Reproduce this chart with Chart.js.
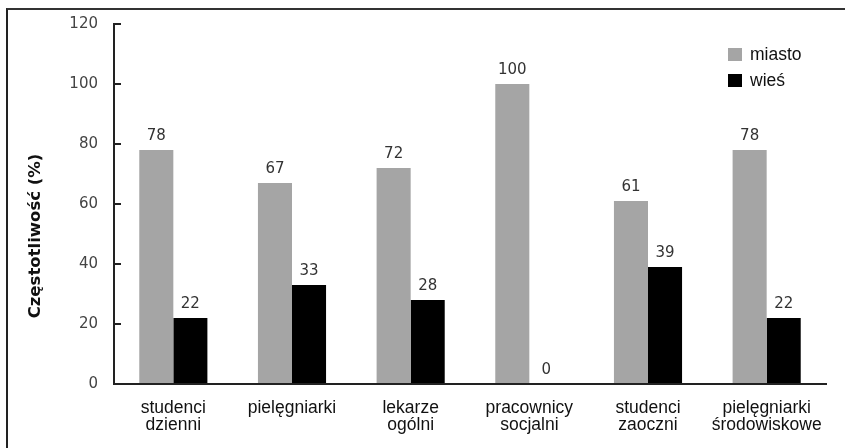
<!DOCTYPE html>
<html>
<head>
<meta charset="utf-8">
<script src="https://cdn.jsdelivr.net/npm/chart.js@4/dist/chart.umd.min.js"></script>
<style>
  html, body { margin: 0; padding: 0; background: #fff; }
  #wrap { position: relative; width: 845px; height: 448px; overflow: hidden; }
  #frame { position: absolute; left: 6px; top: 8px; width: 900px; height: 500px;
           border-top: 2px solid #333; border-left: 2px solid #222; pointer-events: none; }
  #legend { position: absolute; left: 728px; top: 41px; font-family: "Liberation Sans", Arial, sans-serif;
            font-size: 17.5px; color: #111; }
  #legend .item { display: flex; align-items: center; height: 26px; }
  #legend .box { width: 14px; height: 13px; margin-right: 8px; }
  #ytitle { position: absolute; left: 35px; top: 236px; transform: translate(-50%, -50%) rotate(-90deg);
            white-space: nowrap; font-family: "DejaVu Sans", Verdana, sans-serif; font-weight: bold;
            font-size: 16.5px; color: #111; line-height: 1; }
</style>
</head>
<body>
<div id="wrap">
  <canvas id="c" width="845" height="448"></canvas>
  <div id="frame"></div>
  <div id="legend"></div>
  <div id="ytitle"></div>
</div>
<script>
const categories = [
  ["studenci", "dzienni"],
  "pielęgniarki",
  ["lekarze", "ogólni"],
  ["pracownicy", "socjalni"],
  ["studenci", "zaoczni"],
  ["pielęgniarki", "środowiskowe"]
];
const seriesNames = ["miasto", "wieś"];
const miasto = [78, 67, 72, 100, 61, 78];
const wies = [22, 33, 28, 0, 39, 22];
const yTicks = { min: 0, max: 120, step: 20 };
const yTitle = "Częstotliwość (%)";
const colors = ["#a5a5a5", "#000000"];

const valueLabels = {
  id: "valueLabels",
  afterDatasetsDraw(chart) {
    const ctx = chart.ctx;
    ctx.save();
    ctx.font = "15px 'DejaVu Sans', Verdana, sans-serif";
    ctx.fillStyle = "#333";
    ctx.textAlign = "center";
    ctx.textBaseline = "bottom";
    chart.data.datasets.forEach((ds, i) => {
      const meta = chart.getDatasetMeta(i);
      meta.data.forEach((el, j) => {
        ctx.fillText(String(ds.data[j]), el.x, el.y - 6);
      });
    });
    ctx.restore();
  }
};

document.getElementById("ytitle").textContent = yTitle;

const chart = new Chart(document.getElementById("c"), {
  type: "bar",
  data: {
    labels: categories,
    datasets: [
      { label: seriesNames[0], data: miasto, backgroundColor: colors[0], categoryPercentage: 0.574, barPercentage: 1.0 },
      { label: seriesNames[1], data: wies, backgroundColor: colors[1], categoryPercentage: 0.574, barPercentage: 1.0 }
    ]
  },
  options: {
    responsive: false,
    animation: false,
    layout: { padding: { left: 0, right: 19, top: 24, bottom: 0 } },
    plugins: {
      legend: { display: false },
      tooltip: { enabled: false }
    },
    scales: {
      x: {
        grid: { display: false, drawTicks: false },
        border: { display: true, color: "#222", width: 2 },
        ticks: {
          color: "#111",
          padding: 15,
          maxRotation: 0,
          autoSkip: false,
          font: { family: "'Liberation Sans', Arial, sans-serif", size: 17.5, lineHeight: 1.0 }
        },
        afterFit(s) { s.height = 64; }
      },
      y: {
        min: yTicks.min,
        max: yTicks.max,
        grid: { drawOnChartArea: false, drawTicks: true, tickLength: -7, color: "#222", lineWidth: 2 },
        border: { display: true, color: "#222", width: 2 },
        ticks: {
          stepSize: yTicks.step,
          color: "#444",
          padding: 23,
          font: { family: "'DejaVu Sans', Verdana, sans-serif", size: 15 }
        },
        afterFit(s) { s.width = 114; s.paddingTop = 8; s.paddingBottom = 8; }
      }
    }
  },
  plugins: [valueLabels]
});

const legendEl = document.getElementById("legend");
chart.data.datasets.forEach(ds => {
  const item = document.createElement("div");
  item.className = "item";
  const box = document.createElement("span");
  box.className = "box";
  box.style.background = ds.backgroundColor;
  const txt = document.createElement("span");
  txt.textContent = ds.label;
  item.appendChild(box);
  item.appendChild(txt);
  legendEl.appendChild(item);
});
</script>
</body>
</html>
